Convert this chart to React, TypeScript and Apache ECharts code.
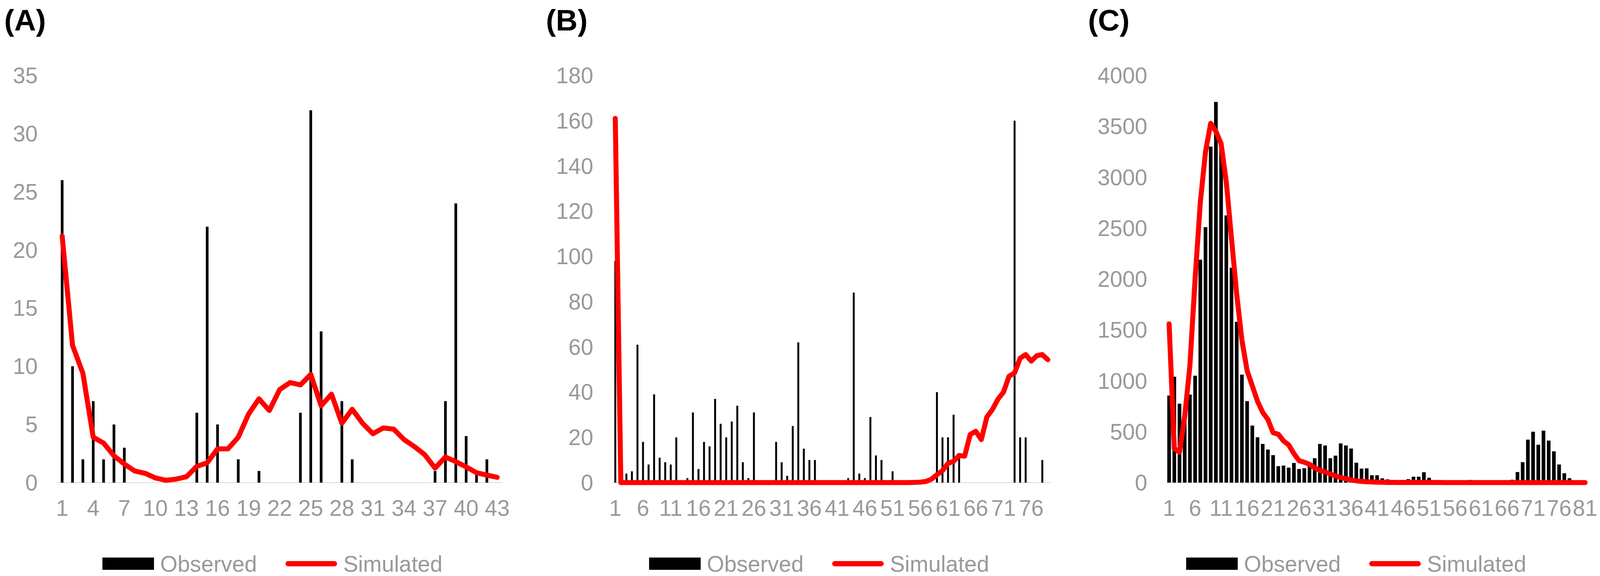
import { useEffect, useRef } from 'react'
import * as echarts from 'echarts'

// (A) observed counts and simulated curve, categories 1..43
const observedA = [
  26, 10, 2, 7, 2, 5, 3, 0, 0, 0, 0, 0, 0, 6, 22, 5, 0, 2, 0, 1, 0, 0, 0, 6, 32, 13, 0, 7, 2, 0,
  0, 0, 0, 0, 0, 0, 1, 7, 24, 4, 1, 2, 0,
]
const simulatedA = [
  21.2, 11.8, 9.4, 3.9, 3.4, 2.3, 1.6, 1.0, 0.8, 0.4, 0.2, 0.3, 0.5, 1.4, 1.7, 2.9, 2.9, 3.9, 5.9, 7.2,
  6.2, 8.0, 8.6, 8.4, 9.3, 6.6, 7.6, 5.1, 6.3, 5.1, 4.2, 4.7, 4.6, 3.7, 3.1, 2.4, 1.25, 2.2, 1.8, 1.35,
  0.85, 0.65, 0.45,
]

// (B) categories 1..79
const observedB = [
  98, 0, 4, 5, 61, 18, 8, 39, 11, 9, 8, 20, 0, 2, 31, 6, 18, 16, 37, 26,
  20, 27, 34, 9, 2, 31, 0, 0, 0, 18, 9, 3, 25, 62, 15, 10, 10, 0, 0, 0,
  0, 0, 2, 84, 4, 2, 29, 12, 10, 0, 5, 0, 0, 0, 0, 0, 0, 0, 40, 20,
  20, 30, 12, 0, 0, 0, 0, 0, 0, 0, 0, 0, 160, 20, 20, 0, 0, 10, 0,
]
const simulatedB = [
  161, 0, 0, 0, 0, 0, 0, 0, 0, 0, 0, 0, 0, 0, 0, 0, 0, 0, 0, 0,
  0, 0, 0, 0, 0, 0, 0, 0, 0, 0, 0, 0, 0, 0, 0, 0, 0, 0, 0, 0,
  0, 0, 0, 0, 0, 0, 0, 0, 0, 0, 0, 0, 0, 0, 0.1, 0.2, 0.5, 1.5, 3.5, 5.3,
  8.5, 9.4, 12, 11.7, 21.3, 22.7, 19, 29, 32.3, 36.9, 40, 47, 48.5, 55, 56.6, 53.7, 56.1, 56.6, 54.3,
]

// (C) categories 1..81
const observedC = [
  855, 1040, 775, 600, 865, 1050, 2190, 2510, 3300, 3740, 3330, 2625, 2110, 1580, 1060, 800, 560, 445, 380, 325,
  270, 162, 167, 147, 193, 134, 141, 170, 240, 380, 365, 240, 265, 385, 365, 335, 195, 137, 140, 72,
  72, 42, 32, 10, 5, 26, 34, 58, 58, 102, 47, 0, 0, 0, 0, 0, 0, 0, 26, 0,
  0, 0, 0, 0, 0, 0, 28, 104, 201, 422, 500, 372, 511, 413, 307, 178, 92, 43, 0, 0, 0,
]
const simulatedC = [
  1560, 335, 300, 650, 1150, 2000, 2750, 3250, 3530, 3450, 3330, 2950, 2400, 1850, 1400, 1100, 950, 800, 690, 620,
  490, 475, 410, 370, 285, 215, 200, 180, 145, 120, 105, 85, 65, 50, 38, 26, 18, 12, 8, 6,
  4, 3, 2, 2, 1, 1, 1, 1, 1, 1, 1, 1, 1, 0, 0, 0, 0, 0, 0, 0,
  0, 0, 0, 0, 0, 0, 0, 0, 0, 0, 0, 0, 0, 0, 0, 0, 0, 0, 0, 0, 0,
]

const yMax = [35, 180, 4000]
const yStep = [5, 20, 500]
const labelEvery = [2, 4, 4]
const panelTitles = ['(A)', '(B)', '(C)']

const FONT = "'Liberation Sans', Arial, sans-serif"
const GREY = '#999999'
const RED = '#ff0000'

// layout is drawn for a 4156 x 1474 page and scaled to the real viewport
const DESIGN_W = 4156
const DESIGN_H = 1474

const toCats = (n: number) => Array.from({ length: n }, (_, i) => String(i + 1))

export default function App() {
  const chartRef = useRef<HTMLDivElement>(null)

  useEffect(() => {
    if (!chartRef.current) return
    const el = chartRef.current
    const chart = echarts.init(el, undefined, { renderer: 'svg' })

    const sx = el.clientWidth / DESIGN_W
    const sy = el.clientHeight / DESIGN_H
    const sf = Math.min(sx, sy)
    const X = (v: number) => v * sx
    const Y = (v: number) => v * sy
    const F = (v: number) => v * sf

    const observed = [observedA, observedB, observedC]
    const simulated = [simulatedA, simulatedB, simulatedC]
    const grids = [
      { left: X(148), top: Y(193), width: X(1157), height: Y(1042) },
      { left: X(1591), top: Y(193), width: X(1138), height: Y(1042) },
      { left: X(3030), top: Y(193), width: X(1094), height: Y(1042) },
    ]
    const barWidths = [7, 5, 9.5]
    const titleLeft = [11, 1418, 2826]
    const legendLeft = [266, 1686, 3081]

    const lineIcon = 'path://M7,0 H129 A7,7 0 0 1 129,14 H7 A7,7 0 0 1 7,0 Z'

    const option: any = {
      animation: false,
      backgroundColor: '#ffffff',
      title: panelTitles.map((t, i) => ({
        text: t,
        left: X(titleLeft[i]),
        top: Y(12),
        padding: 0,
        textStyle: { fontFamily: FONT, fontSize: F(78), fontWeight: 'bold', color: '#000' },
      })),
      legend: legendLeft.map((l) => ({
        left: X(l),
        top: Y(1414),
        padding: 0,
        itemWidth: F(134),
        itemHeight: F(32),
        itemGap: F(74),
        selectedMode: false,
        symbolKeepAspect: true,
        textStyle: { fontFamily: FONT, fontSize: F(58), color: GREY, padding: [0, 0, 0, F(11)] },
        data: [
          { name: 'Observed', icon: 'rect', itemStyle: { color: '#000', borderWidth: 0 } },
          { name: 'Simulated', icon: lineIcon, itemStyle: { color: RED, borderWidth: 0 } },
        ],
      })),
      grid: grids,
      xAxis: observed.map((d, i) => ({
        type: 'category',
        gridIndex: i,
        data: toCats(d.length),
        axisLine: { lineStyle: { color: '#d9d9d9', width: F(2) } },
        axisTick: { show: false },
        axisLabel: {
          interval: labelEvery[i],
          margin: Y(36),
          fontFamily: FONT,
          fontSize: F(58),
          color: GREY,
        },
      })),
      yAxis: yMax.map((m, i) => ({
        type: 'value',
        gridIndex: i,
        min: 0,
        max: m,
        interval: yStep[i],
        axisLine: { show: false },
        axisTick: { show: false },
        splitLine: { show: false },
        axisLabel: {
          margin: X(50),
          fontFamily: FONT,
          fontSize: F(58),
          color: GREY,
          formatter: (v: number) => String(v),
        },
      })),
      series: [
        ...observed.map((d, i) => ({
          name: 'Observed',
          type: 'bar',
          xAxisIndex: i,
          yAxisIndex: i,
          barWidth: X(barWidths[i]),
          itemStyle: { color: '#000' },
          data: d,
        })),
        ...simulated.map((d, i) => ({
          name: 'Simulated',
          type: 'line',
          xAxisIndex: i,
          yAxisIndex: i,
          symbol: 'none',
          color: RED,
          z: 5,
          lineStyle: { color: RED, width: F(13), cap: 'round', join: 'round' },
          data: d,
        })),
      ],
    }

    chart.setOption(option)

    return () => {
      chart.dispose()
    }
  }, [])

  return (
    <div
      ref={chartRef}
      style={{ position: 'fixed', left: 0, top: 0, width: '100vw', height: '100vh', background: '#fff' }}
    />
  )
}
